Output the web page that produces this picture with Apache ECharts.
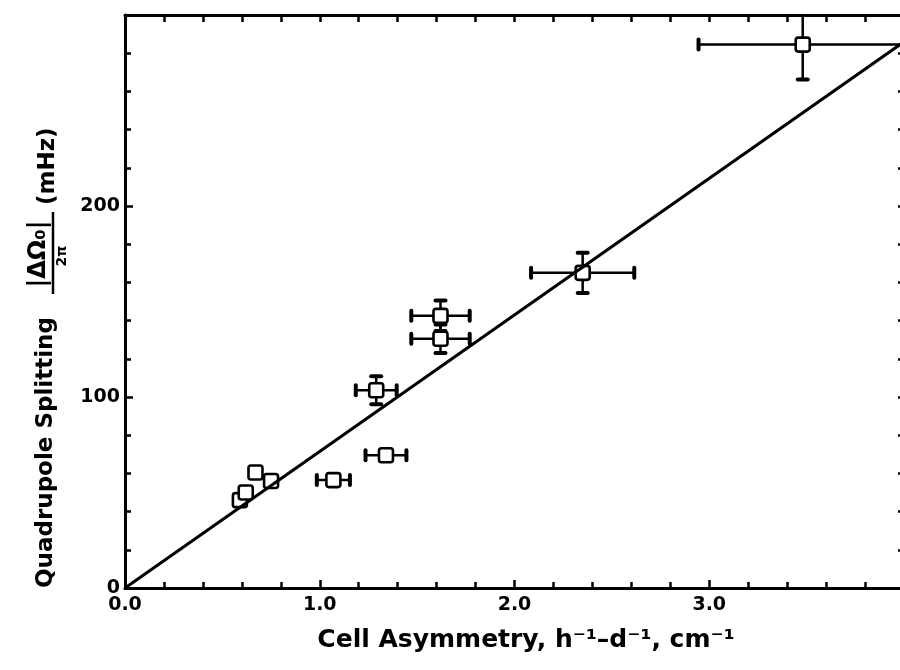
<!DOCTYPE html>
<html>
<head>
<meta charset="utf-8">
<script src="https://cdn.jsdelivr.net/npm/echarts@6/dist/echarts.min.js"></script>
<style>
  html, body { margin: 0; padding: 0; background: #fff; }
  #chart { width: 900px; height: 670px; }
</style>
</head>
<body>
<div id="chart"></div>
<script>
// Measured cell asymmetry (cm^-1) and quadrupole splitting (mHz) with uncertainties
const asymX  = [0.59, 0.62, 0.67, 0.75, 1.07, 1.34, 1.29, 1.62, 1.62, 2.35, 3.48];
const splitY = [46, 50, 60.5, 56, 56.5, 69.5, 103.5, 142.5, 130.5, 165, 284.5];
const xErr   = [0, 0, 0, 0, 0.085, 0.105, 0.105, 0.15, 0.15, 0.265, 0.535];
const yErr   = [0, 0, 0, 0, 0, 0, 7.3, 8, 7.5, 10.5, 18.3];

// Straight-line fit through the origin
const fitLine = [[0, 0], [4.0, 286]];

// Axis ranges and tick labels
const xMin = 0, xMax = 4, yMin = 0, yMax = 300;
const xTickLabels = ['0.0', '1.0', '2.0', '3.0'];
const yTickLabels = ['0', '100', '200'];

const FONT = '"DejaVu Sans", "Noto Sans", sans-serif';
const INK = '#000';

const points = asymX.map((x, i) => [x, splitY[i], xErr[i], yErr[i]]);

function renderErrorPoint(params, api) {
  const x = api.value(0), y = api.value(1), ex = api.value(2), ey = api.value(3);
  const c = api.coord([x, y]);
  const children = [];
  const barStyle = { stroke: INK, lineWidth: 2.5, lineCap: 'round' };
  const capStyle = { stroke: INK, lineWidth: 4, lineCap: 'round' };
  const cap = 5;
  if (ex > 0) {
    const l = api.coord([x - ex, y]);
    const r = api.coord([x + ex, y]);
    children.push({ type: 'line', shape: { x1: l[0], y1: c[1], x2: r[0], y2: c[1] }, style: barStyle });
    children.push({ type: 'line', shape: { x1: l[0], y1: c[1] - cap, x2: l[0], y2: c[1] + cap }, style: capStyle });
    children.push({ type: 'line', shape: { x1: r[0], y1: c[1] - cap, x2: r[0], y2: c[1] + cap }, style: capStyle });
  }
  if (ey > 0) {
    const topVal = Math.min(y + ey, yMax);
    const t = api.coord([x, topVal]);
    const b = api.coord([x, y - ey]);
    children.push({ type: 'line', shape: { x1: c[0], y1: t[1], x2: c[0], y2: b[1] }, style: barStyle });
    if (y + ey <= yMax) {
      children.push({ type: 'line', shape: { x1: c[0] - cap, y1: t[1], x2: c[0] + cap, y2: t[1] }, style: capStyle });
    }
    children.push({ type: 'line', shape: { x1: c[0] - cap, y1: b[1], x2: c[0] + cap, y2: b[1] }, style: capStyle });
  }
  children.push({
    type: 'rect',
    shape: { x: c[0] - 7, y: c[1] - 7, width: 14, height: 14, r: 2.5 },
    style: { fill: '#fff', stroke: INK, lineWidth: 2.6 }
  });
  return { type: 'group', children };
}

const tickLine = { color: INK, width: 2.5 };
const axisLine = { show: true, onZero: false, lineStyle: { color: INK, width: 3 } };

const option = {
  animation: false,
  backgroundColor: '#fff',
  grid: { left: 125, top: 15, width: 779, height: 573, outerBoundsMode: 'none', containLabel: false },
  xAxis: [
    {
      type: 'value', position: 'bottom', min: xMin, max: xMax, interval: 1,
      axisLine,
      axisTick: { inside: true, length: 8, lineStyle: tickLine },
      minorTick: { show: true, splitNumber: 5, length: 6, lineStyle: tickLine },
      splitLine: { show: false },
      axisLabel: {
        color: INK, fontSize: 19, fontWeight: 'bold', fontFamily: FONT, margin: 8,
        formatter: v => xTickLabels[Math.round(v)] || ''
      }
    },
    {
      type: 'value', position: 'top', min: xMin, max: xMax, interval: 0.2,
      axisLine,
      axisTick: { inside: true, length: 7, lineStyle: tickLine },
      splitLine: { show: false },
      axisLabel: { show: false }
    }
  ],
  yAxis: [
    {
      type: 'value', position: 'left', min: yMin, max: yMax, interval: 100,
      axisLine,
      axisTick: { inside: true, length: 8, lineStyle: tickLine },
      minorTick: { show: true, splitNumber: 5, length: 6, lineStyle: tickLine },
      splitLine: { show: false },
      axisLabel: {
        color: INK, fontSize: 19, fontWeight: 'bold', fontFamily: FONT, margin: 5,
        formatter: v => yTickLabels[Math.round(v / 100)] || ''
      }
    },
    {
      type: 'value', position: 'right', min: yMin, max: yMax, interval: 20,
      axisLine,
      axisTick: { inside: true, length: 6, lineStyle: tickLine },
      splitLine: { show: false },
      axisLabel: { show: false }
    }
  ],
  graphic: [
    {
      type: 'text', x: 526, y: 640,
      style: {
        text: 'Cell Asymmetry, h\u207B\u00B9\u2013d\u207B\u00B9, cm\u207B\u00B9',
        font: 'bold 25px ' + FONT, fill: INK, align: 'center', verticalAlign: 'middle'
      }
    },
    {
      type: 'group', x: 46, y: 588, rotation: Math.PI / 2,
      children: [
        { type: 'text', x: 0, y: 0, style: { text: 'Quadrupole Splitting', font: 'bold 23px ' + FONT, fill: INK, align: 'left', verticalAlign: 'middle' } },
        { type: 'text', x: 334, y: -7, style: { text: '|\u0394\u03A9\u2080|', font: 'bold 24px ' + FONT, fill: INK, align: 'center', verticalAlign: 'middle' } },
        { type: 'line', shape: { x1: 294, y1: 7, x2: 376, y2: 7 }, style: { stroke: INK, lineWidth: 2.5 } },
        { type: 'text', x: 332, y: 16, style: { text: '2\u03C0', font: 'bold 14px ' + FONT, fill: INK, align: 'center', verticalAlign: 'middle' } },
        { type: 'text', x: 383, y: 2, style: { text: '(mHz)', font: 'bold 23px ' + FONT, fill: INK, align: 'left', verticalAlign: 'middle' } }
      ]
    }
  ],
  series: [
    {
      type: 'line', xAxisIndex: 0, yAxisIndex: 0,
      data: fitLine, showSymbol: false, silent: true,
      lineStyle: { color: INK, width: 3 }
    },
    {
      type: 'custom', xAxisIndex: 0, yAxisIndex: 0,
      data: points, renderItem: renderErrorPoint, z: 3
    }
  ]
};

const chart = echarts.init(document.getElementById('chart'), null, { renderer: 'canvas' });
chart.setOption(option);
</script>
</body>
</html>
